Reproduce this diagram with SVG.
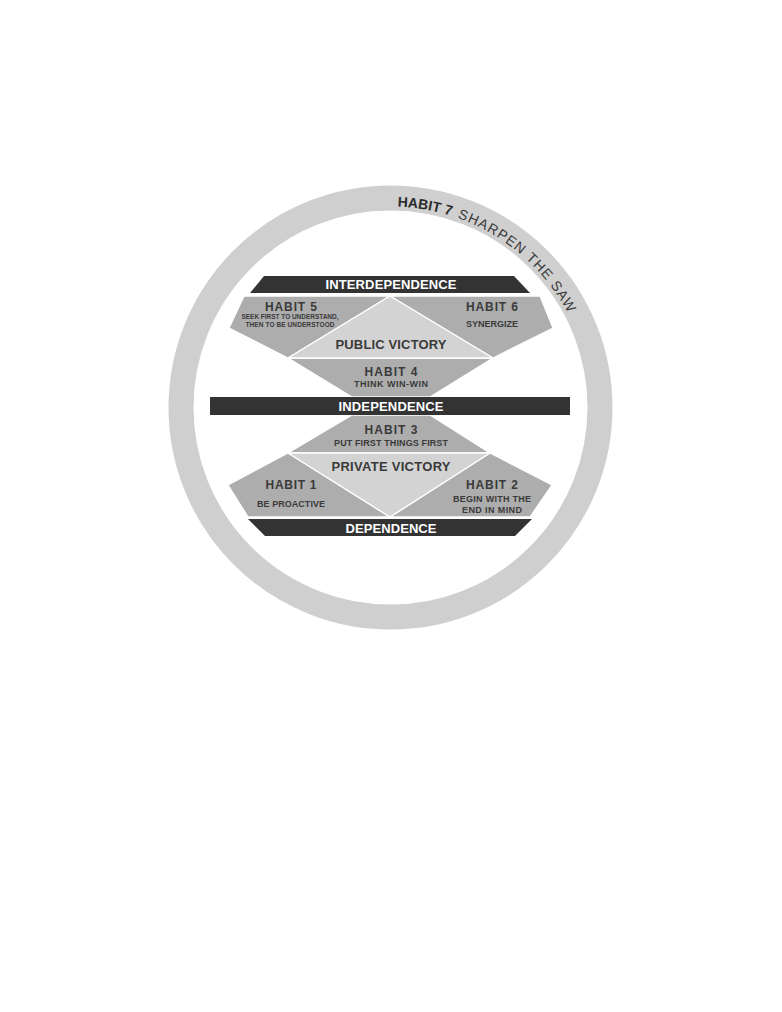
<svg xmlns="http://www.w3.org/2000/svg" width="782" height="1012" viewBox="0 0 782 1012">
<style>
.bar{fill:#333333;}
.mid{fill:#adadad;stroke:#ffffff;stroke-width:1.3;stroke-linejoin:miter;}
.light{fill:#d3d3d3;stroke:#ffffff;stroke-width:1.3;stroke-linejoin:miter;}
text{font-family:"Liberation Sans",Arial,sans-serif;font-weight:bold;text-anchor:middle;}
.bt{fill:#ffffff;font-size:13px;}
.h{fill:#3a3a3a;font-size:12px;}
.s{fill:#3a3a3a;font-size:9px;}
.xs{fill:#3a3a3a;font-size:6.5px;}
.v{fill:#3a3a3a;font-size:13px;}
.arc{text-anchor:start;font-size:14px;}
.arcb{fill:#2b2b2b;font-weight:bold;}
.arcn{fill:#3a3a3a;font-weight:normal;letter-spacing:1px;}
</style>
<defs>
<path id="arc" d="M397.5,206.6 A201,201 0 0 1 590.7,425.0"/>
</defs>
<rect width="782" height="1012" fill="#ffffff"/>
<g id="ring">
<circle cx="390.5" cy="407.5" r="209.5" fill="none" stroke="#cfcfcf" stroke-width="25"/>
<text class="arc arcb"><textPath href="#arc" startOffset="0">HABIT 7</textPath></text>
<text class="arc arcn"><textPath href="#arc" startOffset="61">SHARPEN</textPath></text>
<text class="arc arcn"><textPath href="#arc" startOffset="141">THE</textPath></text>
<text class="arc arcn"><textPath href="#arc" startOffset="177">SAW</textPath></text>
</g>
<g id="connectors"></g>
<g id="habit4">
<polygon class="mid" points="288,358 493,358 430,397 352,397"/>
<text class="h" x="391" y="376" textLength="53">HABIT 4</text>
<text class="s" x="391" y="387" textLength="74">THINK WIN-WIN</text>
</g>
<g id="habit3">
<polygon class="mid" points="352,415 430,415 490,453 288,453"/>
<text class="h" x="391" y="434" textLength="53">HABIT 3</text>
<text class="s" x="391" y="446" textLength="114">PUT FIRST THINGS FIRST</text>
</g>
<g id="habit5">
<polygon class="mid" points="244,296 390,296 288,358 229,328"/>
<text class="h" x="291" y="311" textLength="52">HABIT 5</text>
<text class="xs" x="290" y="319" textLength="97">SEEK FIRST TO UNDERSTAND,</text>
<text class="xs" x="290" y="327" textLength="89">THEN TO BE UNDERSTOOD</text>
</g>
<g id="habit6">
<polygon class="mid" points="390,296 540,296 553,328 493,358"/>
<text class="h" x="492" y="311" textLength="52">HABIT 6</text>
<text class="s" x="492" y="327" textLength="52">SYNERGIZE</text>
</g>
<g id="public-victory">
<polygon class="light" points="390,296 493,358 288,358"/>
<text class="v" x="391" y="349" textLength="111">PUBLIC VICTORY</text>
</g>
<g id="habit1">
<polygon class="mid" points="288,453 390,517 248,517 228,485"/>
<text class="h" x="291" y="489" textLength="51">HABIT 1</text>
<text class="s" x="291" y="507" textLength="68">BE PROACTIVE</text>
</g>
<g id="habit2">
<polygon class="mid" points="490,453 552,485 530,517 390,517"/>
<text class="h" x="492" y="489" textLength="52">HABIT 2</text>
<text class="s" x="492" y="502" textLength="78">BEGIN WITH THE</text>
<text class="s" x="492" y="513" textLength="60">END IN MIND</text>
</g>
<g id="private-victory">
<polygon class="light" points="288,453 490,453 390,517"/>
<text class="v" x="391" y="471" textLength="119">PRIVATE VICTORY</text>
</g>
<g id="interdependence">
<polygon class="bar" points="264,276 514,276 530,293 250,293"/>
<text class="bt" x="391" y="289" textLength="131">INTERDEPENDENCE</text>
</g>
<g id="independence">
<rect class="bar" x="210" y="397" width="360" height="18"/>
<text class="bt" x="391" y="411" textLength="105">INDEPENDENCE</text>
</g>
<g id="dependence">
<polygon class="bar" points="248,519 532,519 515,536 265,536"/>
<text class="bt" x="391" y="533" textLength="91">DEPENDENCE</text>
</g>
</svg>
